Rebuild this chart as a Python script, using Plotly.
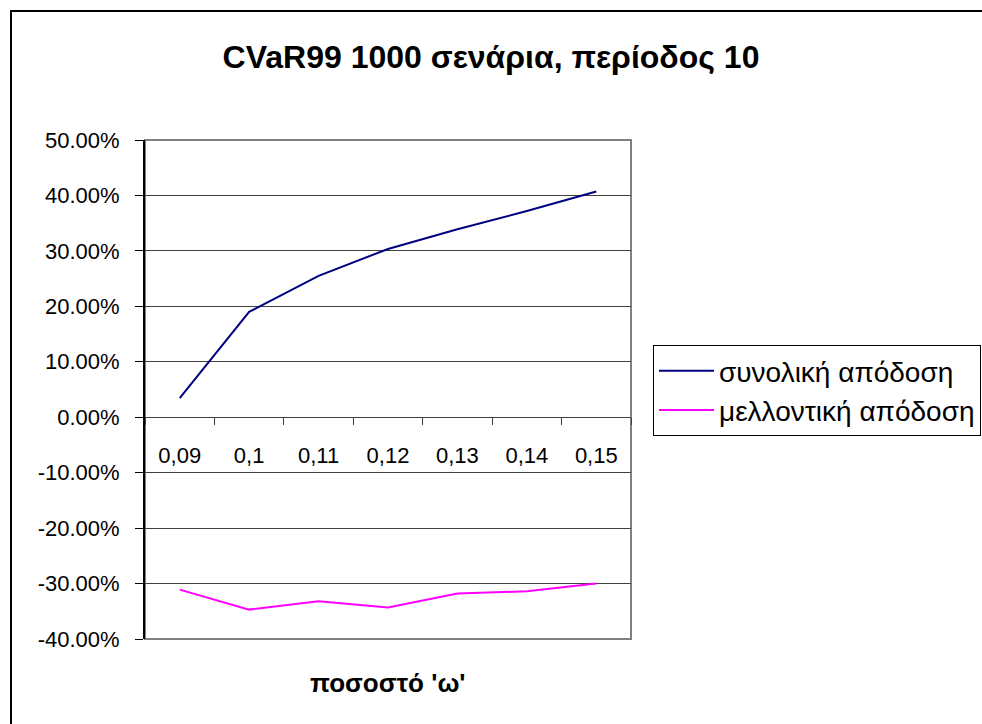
import plotly.graph_objects as go

categories = ["0,09", "0,1", "0,11", "0,12", "0,13", "0,14", "0,15"]
total_return = [0.0344, 0.190, 0.255, 0.3035, 0.339, 0.372, 0.407]
future_return = [-0.311, -0.347, -0.332, -0.343, -0.318, -0.314, -0.300]
series_names = ["συνολική απόδοση", "μελλοντική απόδοση"]
y_tick_values = [-0.4, -0.3, -0.2, -0.1, 0.0, 0.1, 0.2, 0.3, 0.4, 0.5]
y_tick_labels = ["-40.00%", "-30.00%", "-20.00%", "-10.00%", "0.00%",
                 "10.00%", "20.00%", "30.00%", "40.00%", "50.00%"]
title_text = "CVaR99 1000 σενάρια, περίοδος 10"
xaxis_title = "ποσοστό 'ω'"

FONT = "Liberation Sans, Arial, sans-serif"

fig = go.Figure()
fig.add_trace(go.Scatter(x=categories, y=total_return, mode="lines", name=series_names[0],
                         line=dict(color="#000080", width=2)))
fig.add_trace(go.Scatter(x=categories, y=future_return, mode="lines", name=series_names[1],
                         line=dict(color="#FF00FF", width=2)))

W, H = 982, 724
L, R, T, B = 145, 631, 140, 639
ymin, ymax = -0.4, 0.5

fig.update_layout(
    width=W, height=H,
    margin=dict(l=L, r=W - R, t=T, b=H - B, autoexpand=False),
    paper_bgcolor="white", plot_bgcolor="white",
    font=dict(family=FONT, size=22, color="black"),
    title=dict(text="<b>" + title_text + "</b>", x=0.5, xref="container", xanchor="center",
               y=1 - 57 / H, yref="container", yanchor="middle",
               font=dict(family=FONT, size=32, color="black")),
    showlegend=True,
    legend=dict(x=(653 - L) / (R - L), y=(B - 345) / (B - T), xanchor="left", yanchor="top",
                bordercolor="black", borderwidth=1, bgcolor="white",
                font=dict(family=FONT, size=28, color="black"),
                tracegroupgap=0, itemwidth=55),
    xaxis=dict(type="category", range=[-0.5, len(categories) - 0.5],
               anchor="free", position=(0 - ymin) / (ymax - ymin),
               showline=True, linecolor="#404040", linewidth=1,
               ticks="outside", tickson="boundaries", ticklen=7, tickcolor="#404040",
               ticklabelstandoff=18, showgrid=False, zeroline=False,
               tickfont=dict(family=FONT, size=22, color="black")),
    yaxis=dict(range=[ymin, ymax], tickmode="array", tickvals=y_tick_values,
               ticktext=y_tick_labels,
               showline=True, linecolor="black", linewidth=2,
               ticks="outside", ticklen=8, tickcolor="black", ticklabelstandoff=11,
               showgrid=True, gridcolor="#404040", gridwidth=1, zeroline=False,
               tickfont=dict(family=FONT, size=22, color="black")),
)

# plot-area border (gray)
fig.add_shape(type="rect", xref="paper", yref="paper", x0=0, y0=0, x1=1, y1=1,
              line=dict(color="#808080", width=2), layer="below")
# outer chart border (black)
fig.add_shape(type="rect", xref="paper", yref="paper",
              x0=(11 - L) / (R - L), x1=(1000 - L) / (R - L),
              y0=(B - 740) / (B - T), y1=(B - 11) / (B - T),
              line=dict(color="black", width=2), layer="below")

fig.add_annotation(text="<b>" + xaxis_title + "</b>", xref="paper", yref="paper",
                   x=0.5, y=(B - 683) / (B - T), xanchor="center", yanchor="middle",
                   showarrow=False, font=dict(family=FONT, size=26, color="black"))

fig.write_html("out.html")
